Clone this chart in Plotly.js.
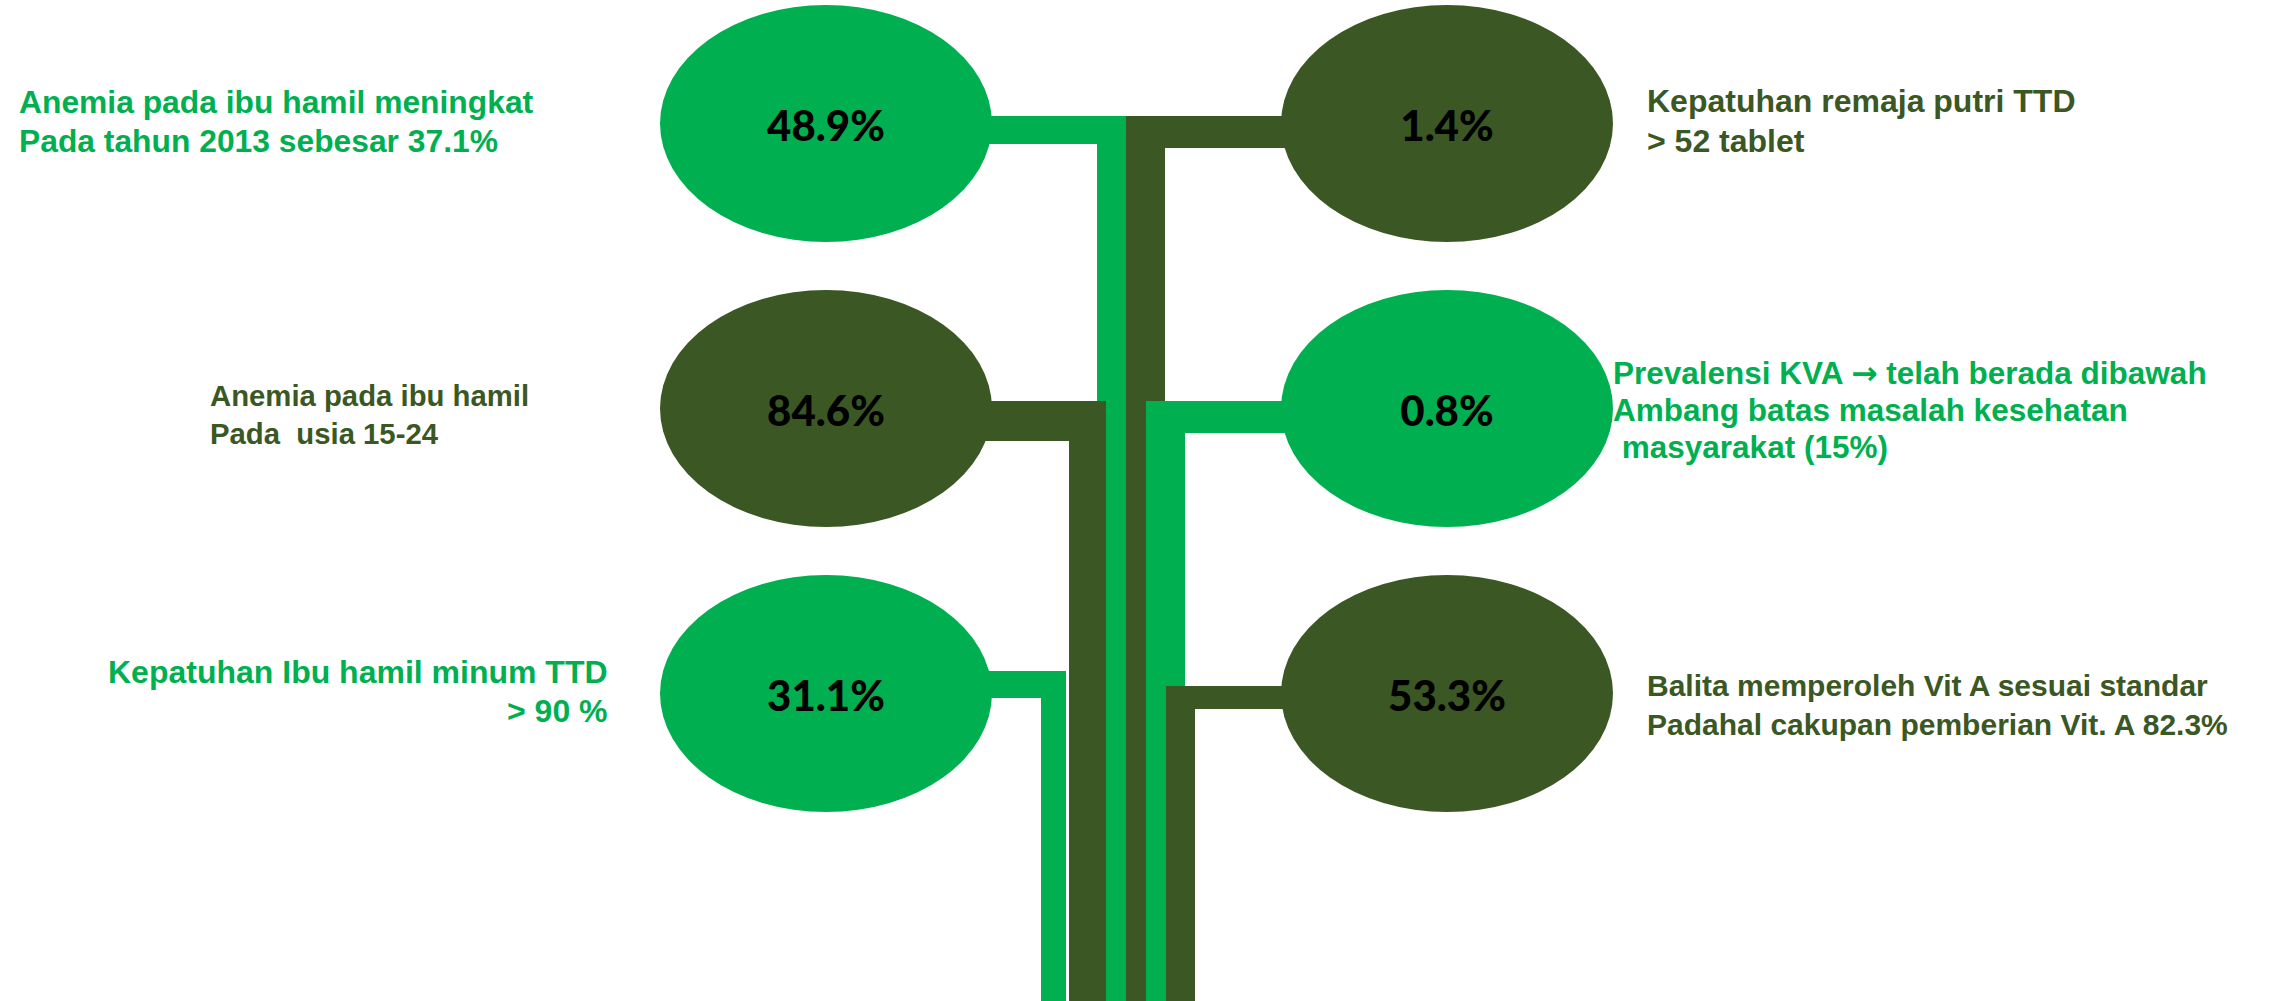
<!DOCTYPE html>
<html>
<head>
<meta charset="utf-8">
<script src="https://cdn.plot.ly/plotly-3.0.1.min.js"></script>
<style>
  html, body { margin: 0; padding: 0; background: #ffffff; }
  #chart { width: 2293px; height: 1001px; }
</style>
</head>
<body>
<div id="chart"></div>
<script>
// ---- data ----
const leftValues  = [48.9, 84.6, 31.1];
const rightValues = [1.4, 0.8, 53.3];
const leftLabels = [
  ['Anemia pada ibu hamil meningkat', 'Pada tahun 2013 sebesar 37.1%'],
  ['Anemia pada ibu hamil', 'Pada\u00A0 usia 15-24'],
  ['Kepatuhan Ibu hamil minum TTD', '> 90 %']
];
const rightLabels = [
  ['Kepatuhan remaja putri TTD', '> 52 tablet'],
  ['Prevalensi KVA <span style="font-family:DejaVu Sans">\u2192</span> telah berada dibawah', 'Ambang batas masalah kesehatan', '\u00A0masyarakat (15%)'],
  ['Balita memperoleh Vit A sesuai standar', 'Padahal cakupan pemberian Vit. A 82.3%']
];

// ---- styling / layout ----
const GREEN = '#00B050';
const DARK = '#3A5724';
const leftColors  = [GREEN, DARK, GREEN];
const rightColors = [DARK, GREEN, DARK];

const W = 2293, H = 1001;
const rowY = [123.5, 408.5, 693.5];
const leftCX = 826, rightCX = 1447, RX = 166, RY = 118.5;

// connector geometry: [horizontal y0, y1, vertical x0, x1]
const leftConn  = [[116, 144, 1097, 1126], [401, 441, 1069, 1106], [671, 698, 1041, 1066]];
const rightConn = [[116, 148, 1126, 1165], [401, 433, 1146, 1185], [686, 709, 1166, 1195]];

// label geometry
const leftLabelPos = [
  {x: 18, anchor: 'left', size: 31.8, ys: [101.5, 140.5]},
  {x: 209, anchor: 'left', size: 29.3, ys: [395.5, 433]},
  {x: 609, anchor: 'right', size: 32, ys: [672, 711]}
];
const rightLabelPos = [
  {x: 1646, anchor: 'left', size: 32, ys: [101, 141]},
  {x: 1612, anchor: 'left', size: 31.5, ys: [373, 410, 447]},
  {x: 1646, anchor: 'left', size: 30, ys: [685.5, 724.5]}
];

const shapes = [];
function rect(x0, x1, y0, y1, color) {
  shapes.push({type: 'rect', xref: 'x', yref: 'y', x0: x0, x1: x1, y0: y0, y1: y1,
               fillcolor: color, line: {width: 0}, layer: 'below'});
}
for (let i = 0; i < 3; i++) {
  const lc = leftConn[i], rc = rightConn[i];
  rect(leftCX, lc[3], lc[0], lc[1], leftColors[i]);
  rect(lc[2], lc[3], lc[0], H, leftColors[i]);
  rect(rc[2], rightCX, rc[0], rc[1], rightColors[i]);
  rect(rc[2], rc[3], rc[0], H, rightColors[i]);
}
for (let i = 0; i < 3; i++) {
  shapes.push({type: 'circle', xref: 'x', yref: 'y',
    x0: leftCX - RX, x1: leftCX + RX, y0: rowY[i] - RY, y1: rowY[i] + RY,
    fillcolor: leftColors[i], line: {width: 0}, layer: 'below'});
  shapes.push({type: 'circle', xref: 'x', yref: 'y',
    x0: rightCX - RX, x1: rightCX + RX, y0: rowY[i] - RY, y1: rowY[i] + RY,
    fillcolor: rightColors[i], line: {width: 0}, layer: 'below'});
}

const annotations = [];
const labelFont = (c, s) => ({family: 'Liberation Sans, Arial, sans-serif', size: s, color: c});
function addLabels(lines, pos, color) {
  lines.forEach((t, j) => {
    annotations.push({xref: 'x', yref: 'y', x: pos.x, y: pos.ys[j],
      text: '<b>' + t + '</b>', showarrow: false, xanchor: pos.anchor, yanchor: 'middle',
      align: pos.anchor, font: labelFont(color, pos.size), borderpad: 0});
  });
}
for (let i = 0; i < 3; i++) {
  addLabels(leftLabels[i], leftLabelPos[i], leftColors[i]);
  addLabels(rightLabels[i], rightLabelPos[i], rightColors[i]);
}

const valueFont = {family: 'Lato, Carlito, sans-serif', size: 42, color: '#000000', weight: 900};
const valueTrace = {
  type: 'scatter', mode: 'text',
  x: [leftCX, leftCX, leftCX, rightCX, rightCX, rightCX],
  y: rowY.concat(rowY).map(v => v + 7),
  text: leftValues.concat(rightValues).map(v => v.toFixed(1) + '%'),
  textposition: 'middle center',
  textfont: valueFont,
  hoverinfo: 'skip', showlegend: false
};

const layout = {
  width: W, height: H,
  margin: {l: 0, r: 0, t: 0, b: 0, pad: 0},
  paper_bgcolor: '#ffffff', plot_bgcolor: 'rgba(0,0,0,0)',
  xaxis: {range: [0, W], visible: false, fixedrange: true},
  yaxis: {range: [H, 0], visible: false, fixedrange: true},
  showlegend: false,
  shapes: shapes,
  annotations: annotations
};

Plotly.newPlot('chart', [valueTrace], layout, {displayModeBar: false, staticPlot: true});
</script>
</body>
</html>
